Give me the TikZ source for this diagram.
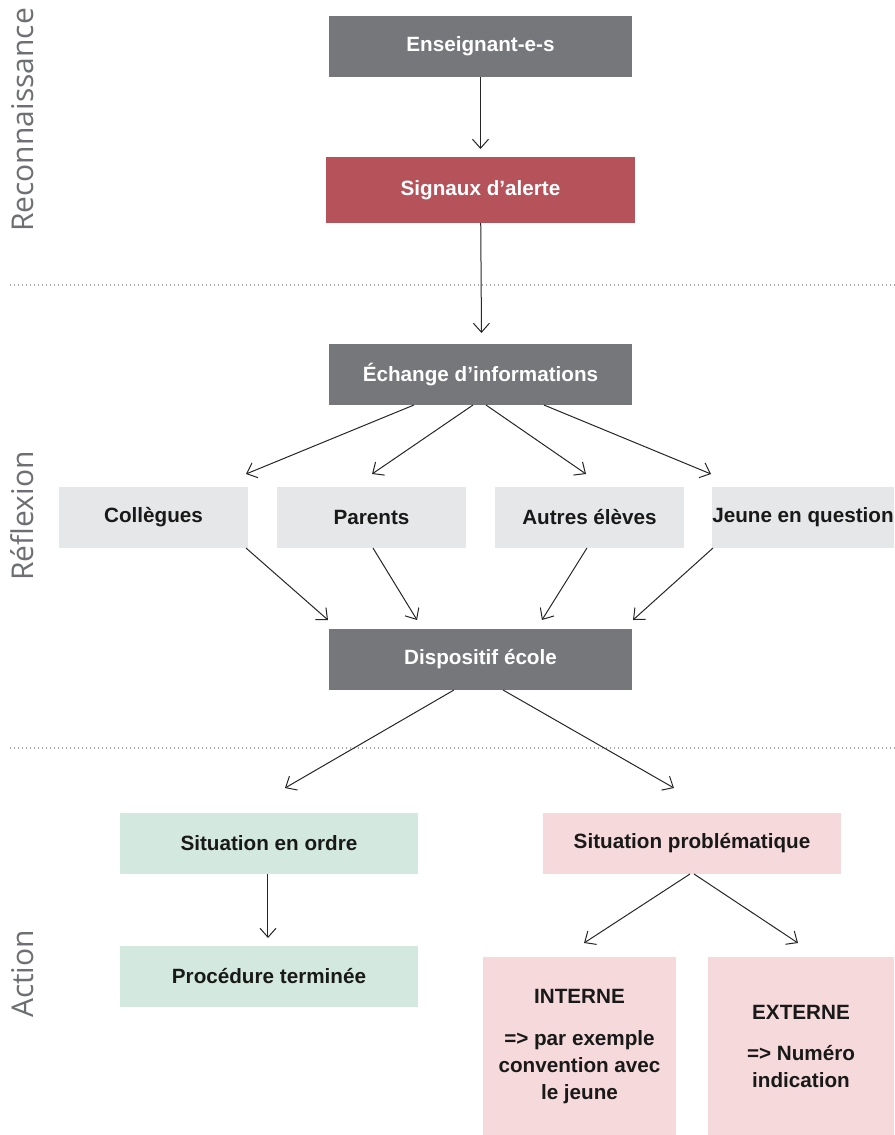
\documentclass[tikz,border=0pt]{standalone}
\usepackage{fontspec}
\setmainfont{Liberation Sans}
\newfontfamily\sidefont{Open Sans}
\usetikzlibrary{positioning,arrows.meta}
\definecolor{darkbox}{RGB}{118,119,123}
\definecolor{alertbox}{RGB}{182,82,90}
\definecolor{lightbox}{RGB}{230,231,232}
\definecolor{okbox}{RGB}{211,233,223}
\definecolor{pbbox}{RGB}{245,217,219}
\definecolor{sidegray}{RGB}{110,111,114}

\begin{document}
\begin{tikzpicture}

  % Definitions
  \tikzstyle{Box} = [rectangle, inner sep=0pt, outer sep=0pt, text centered, font=\fontsize{15.5}{20}\selectfont\bfseries]
  \tikzstyle{Dark} = [Box, fill=darkbox, text=white, minimum width=227.25pt, minimum height=45.75pt]
  \tikzstyle{Light} = [Box, fill=lightbox, text=black!90, minimum width=141.75pt, minimum height=45.75pt]
  \tikzstyle{Wide} = [Box, text=black!90, minimum width=223.5pt, minimum height=45.75pt]
  \tikzstyle{Tall} = [Box, fill=pbbox, text=black!90, minimum height=134.25pt, align=center]
  \tikzstyle{Phase} = [font=\sidefont\fontsize{22.5}{27}\selectfont, text=sidegray, rotate=90, anchor=base]
  \tikzstyle{arrow} = [line width=0.75pt, draw=black!85, -{Straight Barb[length=6.75pt,width=12pt]}]
  \tikzstyle{sep} = [line width=1.1pt, draw=black!35, dash pattern=on 1.1pt off 1.9pt]

  \useasboundingbox (-360.375pt,-816.375pt) rectangle (310.125pt,34.875pt);

  % Reconnaissance
  \node (Ens) [Dark] {Enseignant-e-s};
  \node (Sig) [Dark, fill=alertbox, minimum width=231pt, minimum height=49.5pt, below=60pt of Ens] {Signaux d’alerte};

  % Reflexion
  \node (Ech) [Dark, below=90.75pt of Sig] {Échange d’informations};
  \node (Par) [Light, below=61.5pt of Ech, xshift=-81.75pt] {Parents};
  \node (Col) [Light, left=21.75pt of Par] {Collègues};
  \node (Aut) [Light, right=21.75pt of Par] {Autres élèves};
  \node (Jeu) [Light, minimum width=136.5pt, right=21pt of Aut] {Jeune en question};
  \node (Dis) [Dark, below=168pt of Ech] {Dispositif école};

  % Action
  \node (SitO) [Wide, fill=okbox, below=92.25pt of Dis, xshift=-158.625pt] {Situation en ordre};
  \node (SitP) [Wide, fill=pbbox, below=92.25pt of Dis, xshift=158.625pt] {Situation problématique};
  \node (Proc) [Wide, fill=okbox, below=54pt of SitO] {Procédure terminée};
  \node (Int) [Tall, minimum width=144.75pt, below=62.25pt of SitP, xshift=-84.375pt] {INTERNE\\[11.5pt]=> par exemple\\convention avec\\le jeune};
  \node (Ext) [Tall, minimum width=139.5pt, right=24pt of Int] {EXTERNE\\[11pt]=> Numéro\\indication};

  % phases
  \node (Rec) [Phase] at (-335.25pt,-55.1pt) {Reconnaissance};
  \node (Ref) [Phase] at (-335.25pt,-352.1pt) {Réflexion};
  \node (Act) [Phase] at (-335.25pt,-695.6pt) {Action};

  \draw [sep] (-352.9pt,-178.9pt) -- (310.125pt,-178.9pt);
  \draw [sep] (-352.9pt,-526.1pt) -- (310.125pt,-526.1pt);

  % arrow ends
  \coordinate (tSig) at ([yshift=6pt]Sig.north);
  \coordinate (tEch) at ([xshift=0.75pt,yshift=8.25pt]Ech.north);
  \coordinate (tCol) at ([xshift=-1.5pt,yshift=9.75pt]Col.north east);
  \coordinate (tPar) at ([xshift=0.4pt,yshift=9.75pt]Par.north);
  \coordinate (tAut) at ([xshift=-2.6pt,yshift=9.75pt]Aut.north);
  \coordinate (tJeu) at ([xshift=-0.75pt,yshift=9.75pt]Jeu.north west);
  \coordinate (tDis1) at ([xshift=-0.75pt,yshift=6.75pt]Dis.north west);
  \coordinate (tDis2) at ([xshift=-47.6pt,yshift=6.75pt]Dis.north);
  \coordinate (tDis3) at ([xshift=46.1pt,yshift=6.75pt]Dis.north);
  \coordinate (tDis4) at ([xshift=0.75pt,yshift=6.75pt]Dis.north east);
  \coordinate (tSitO) at ([xshift=12pt,yshift=18.75pt]SitO.north);
  \coordinate (tSitP) at ([xshift=-13.5pt,yshift=18.75pt]SitP.north);
  \coordinate (tProc) at ([xshift=-0.75pt,yshift=6pt]Proc.north);
  \coordinate (tInt) at ([xshift=3.4pt,yshift=10.5pt]Int.north);
  \coordinate (tExt) at ([xshift=-2.25pt,yshift=10.5pt]Ext.north);

  \draw [arrow] (Ens) -- (tSig);
  \draw [arrow] (Sig) -- (tEch);

  \draw [arrow] ([xshift=-49.9pt]Ech.south) -- (tCol);
  \draw [arrow] ([xshift=-5.6pt]Ech.south) -- (tPar);
  \draw [arrow] ([xshift=4.1pt]Ech.south) -- (tAut);
  \draw [arrow] ([xshift=47.6pt]Ech.south) -- (tJeu);

  \draw [arrow] ([xshift=-1.5pt]Col.south east) -- (tDis1);
  \draw [arrow] ([xshift=1.1pt]Par.south) -- (tDis2);
  \draw [arrow] ([xshift=-1.9pt]Aut.south) -- (tDis3);
  \draw [arrow] ([xshift=0.75pt]Jeu.south west) -- (tDis4);

  \draw [arrow] ([xshift=-19.9pt]Dis.south) -- (tSitO);
  \draw [arrow] ([xshift=16.9pt]Dis.south) -- (tSitP);

  \draw [arrow] ([xshift=-0.75pt]SitO.south) -- (tProc);
  \draw [arrow] ([xshift=-1.5pt]SitP.south) -- (tInt);
  \draw [arrow] ([xshift=1.5pt]SitP.south) -- (tExt);

\end{tikzpicture}
\end{document}
